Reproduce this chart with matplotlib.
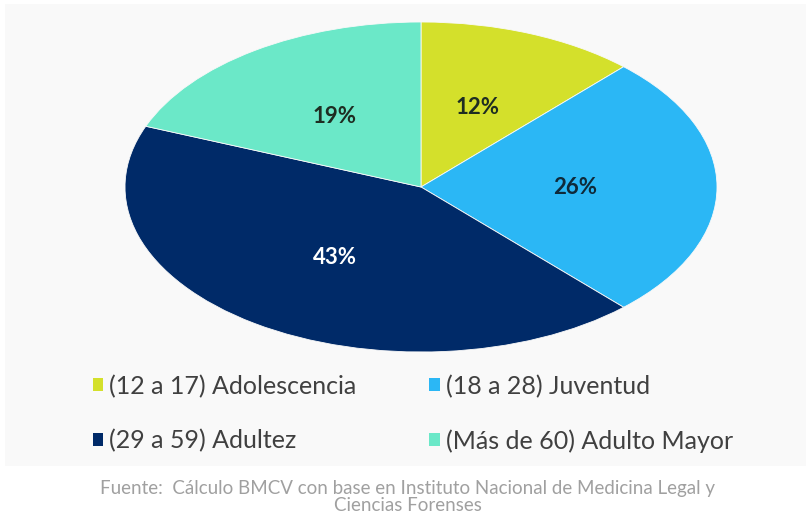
import matplotlib
matplotlib.use("Agg")
import matplotlib.pyplot as plt
from matplotlib.patches import Rectangle, Patch

# datos
categorias = ["(12 a 17) Adolescencia", "(18 a 28) Juventud",
              "(29 a 59) Adultez", "(Más de 60) Adulto Mayor"]
porcentajes = [12, 26, 43, 19]
colores = ["#D4E02B", "#2BB7F5", "#002A68", "#6BE8C8"]
color_etiqueta = ["#1E2D22", "#0F2A3A", "#FFFFFF", "#1E2D22"]
fuente = ("Fuente:  Cálculo BMCV con base en Instituto Nacional de Medicina Legal y\n"
          "Ciencias Forenses")

plt.rcParams['font.family'] = ['Lato', 'DejaVu Sans']

fig = plt.figure(figsize=(8.06, 5.14), dpi=100)
fig.patch.set_facecolor("white")

# panel gris claro de fondo
fig.patches.append(Rectangle((5 / 806, (514 - 466) / 514), 1, 462 / 514,
                             transform=fig.transFigure, facecolor="#F9F9F9",
                             edgecolor="none", zorder=-1))

ax = fig.add_axes([125 / 806, (514 - 352) / 514, 592 / 806, 330 / 514])
ax.set_zorder(2)
wedges, _, autotexts = ax.pie(porcentajes, colors=colores, startangle=90,
                              counterclock=False, autopct="%d%%",
                              pctdistance=0.52,
                              wedgeprops=dict(linewidth=0.6, edgecolor="#F9F9F9"),
                              textprops=dict(fontsize=16, fontweight="bold"))
for t, c in zip(autotexts, color_etiqueta):
    t.set_color(c)
ax.set_aspect("auto")
ax.set_xlim(-1, 1)
ax.set_ylim(-1, 1)
ax.axis("off")

# leyenda
handles = [Patch(facecolor=c, edgecolor="none") for c in colores]
orden = [0, 2, 1, 3]
fig.legend([handles[i] for i in orden], [categorias[i] for i in orden],
           loc="upper left", bbox_to_anchor=(70 / 806, (514 - 352) / 514),
           ncol=2, frameon=False, fontsize=18, labelcolor="#404040",
           handlelength=0.42, handleheight=0.42, handletextpad=0.25,
           labelspacing=1.25, columnspacing=2.9)

fig.text(408 / 806, (514 - 497) / 514, fuente, ha="center", va="center",
         fontsize=13.5, color="#A0A0A0", linespacing=0.95)

fig.savefig("out.png", dpi=100, facecolor="white")
